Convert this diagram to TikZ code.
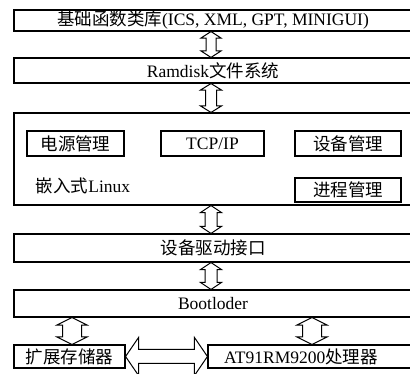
\documentclass[tikz,border=0pt]{standalone}
\usepackage{fontspec}
\setmainfont{Liberation Serif}
\newfontfamily\cjk{Noto Sans CJK SC}
\newcommand\zh[1]{{\cjk #1}}
\usetikzlibrary{calc}
\newcommand\vdarrow[6]{%
  \draw[arr] let \p1=(#1.south), \p2=(#2.north) in
    (#3pt,\y1) -- ({#3pt+#4pt},{\y1-#6pt}) -- ({#3pt+#5pt},{\y1-#6pt})
    -- ({#3pt+#5pt},{\y2+#6pt}) -- ({#3pt+#4pt},{\y2+#6pt}) -- (#3pt,\y2)
    -- ({#3pt-#4pt},{\y2+#6pt}) -- ({#3pt-#5pt},{\y2+#6pt})
    -- ({#3pt-#5pt},{\y1-#6pt}) -- ({#3pt-#4pt},{\y1-#6pt}) -- cycle;}
\begin{document}
\begin{tikzpicture}[x=1pt,y=1pt,
  box/.style={draw, line width=1.1pt, inner sep=0pt, font=\fontsize{17.5}{20}\selectfont},
  inbox/.style={draw, line width=1.1pt, inner sep=0pt, minimum height=25pt, font=\fontsize{17.5}{20}\selectfont},
  lbl/.style={inner sep=0pt, font=\fontsize{17.5}{20}\selectfont},
  arr/.style={draw, line width=1pt, fill=white}]
\useasboundingbox (0,0) rectangle (410,374);
\clip (0,0) rectangle (410,374);
% layers
\node[box, minimum width=398pt, minimum height=21pt] (b1) at (213,353.5) {\zh{基础函数类库}(ICS, XML, GPT, MINIGUI)};
\node[box, minimum width=398pt, minimum height=25pt] (b2) at (213,303.5) {Ramdisk\zh{文件系统}};
\node[box, minimum width=398pt, minimum height=92pt] (b3) at (213,215) {};
\node[box, minimum width=398pt, minimum height=28pt] (b4) at (213,126) {\zh{设备驱动接口}};
\node[box, minimum width=398pt, minimum height=27pt] (b5) at (213,70.5) {Bootloder};
\node[box, minimum width=111pt, minimum height=23pt] (b6) at (69.5,17.5) {\zh{扩展存储器}};
\node[box, minimum width=207pt, minimum height=23pt] (b7) at (311.5,17.5) {};
\node[lbl] (t7) at (301,17.5) {AT91RM9200\zh{处理器}};
% inner boxes of the Linux layer
\node[inbox, minimum width=97pt] (pw) at (75.5,230.5) {\zh{电源管理}};
\node[inbox, minimum width=103pt] (tcp) at (212.5,230.5) {TCP/IP};
\node[inbox, minimum width=106pt] (dev) at (348,230.5) {\zh{设备管理}};
\node[inbox, minimum width=106pt, minimum height=24pt] (proc) at (348,184) {\zh{进程管理}};
\node[lbl] (lx) at (83,188) {\zh{嵌入式}Linux};
% arrows
\vdarrow{b1}{b2}{211}{10}{5}{6.5}
\vdarrow{b2}{b3}{211}{10.5}{5.5}{6.5}
\vdarrow{b3}{b4}{211}{10.5}{6}{7}
\vdarrow{b4}{b5}{211}{10.5}{6}{7}
\vdarrow{b5}{b6}{72}{15}{9.5}{7.5}
\vdarrow{b5}{b7}{312}{15}{9.5}{7.5}
\draw[arr] let \p1=(b6.east), \p2=(b7.west) in
  (\x1,\y1) -- ({\x1+13pt},{\y1+19pt}) -- ({\x1+13pt},{\y1+7pt})
  -- ({\x2-13pt},{\y1+7pt}) -- ({\x2-13pt},{\y1+19pt}) -- (\x2,\y1)
  -- ({\x2-13pt},{\y1-19pt}) -- ({\x2-13pt},{\y1-7pt})
  -- ({\x1+13pt},{\y1-7pt}) -- ({\x1+13pt},{\y1-19pt}) -- cycle;
\end{tikzpicture}
\end{document}
